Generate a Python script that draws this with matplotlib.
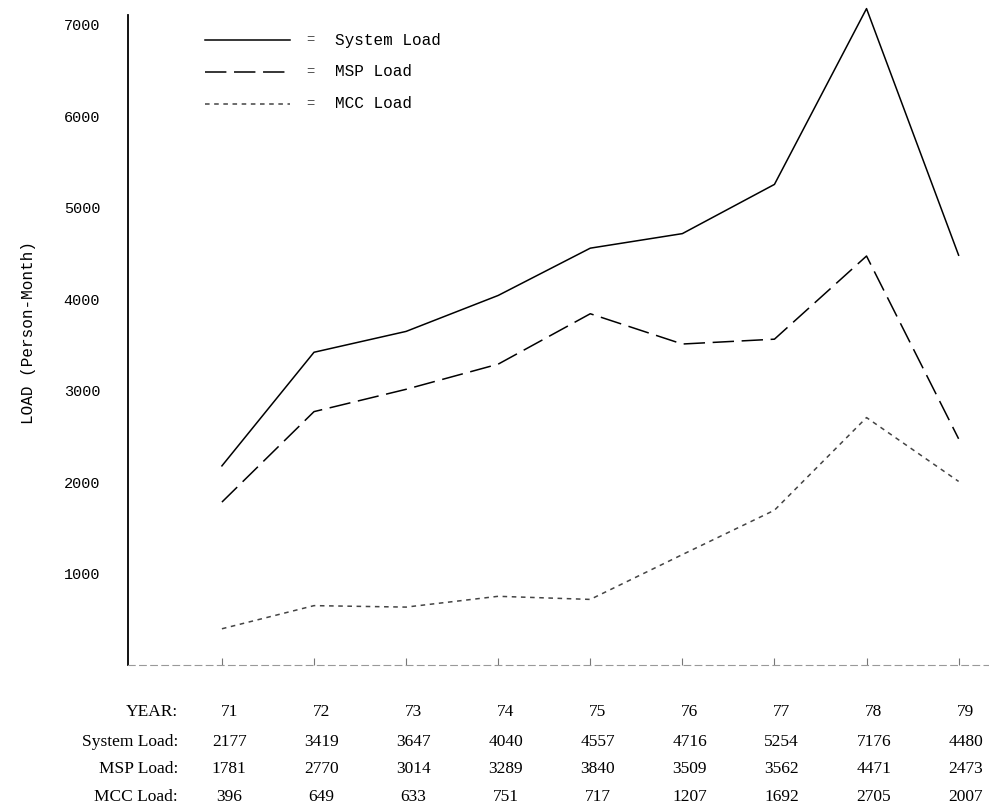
import numpy as np
import matplotlib.pyplot as plt
from matplotlib.transforms import blended_transform_factory

years = [71, 72, 73, 74, 75, 76, 77, 78, 79]
system_load = [2177, 3419, 3647, 4040, 4557, 4716, 5254, 7176, 4480]
msp_load = [1781, 2770, 3014, 3289, 3840, 3509, 3562, 4471, 2473]
mcc_load = [396, 649, 633, 751, 717, 1207, 1692, 2705, 2007]
y_ticks = [1000, 2000, 3000, 4000, 5000, 6000, 7000]

series = [
    ("System Load", system_load, "-", "black"),
    ("MSP Load", msp_load, (0, (14, 5)), "black"),
    ("MCC Load", mcc_load, (0, (3, 3)), "#444444"),
]

mono = "Liberation Mono"
fig = plt.figure(figsize=(9.89, 8.06), dpi=100)
ax = fig.add_axes([128 / 989, 141 / 806, 861 / 989, 665 / 806])

for name, vals, ls, col in series:
    ax.plot(years, vals, linestyle=ls, color=col, lw=1.1)

ax.set_xlim(69.98, 79.33)
ax.set_ylim(0, 7270)
ax.set_yticks(y_ticks)
ax.set_yticklabels([str(v) for v in y_ticks], family=mono, fontsize=11)
ax.tick_params(axis="y", length=0, pad=20)
ax.set_xticks(years)
ax.set_xticklabels([])
ax.tick_params(axis="x", direction="in", length=5, color="#777777")
for s in ("top", "right"):
    ax.spines[s].set_visible(False)
ax.spines["left"].set_linewidth(1.3)
ax.spines["left"].set_bounds(0, 7110)
ax.spines["bottom"].set_color("#999999")
ax.spines["bottom"].set_linestyle((0, (6, 4)))
ax.set_ylabel("LOAD (Person-Month)", family=mono, fontsize=11.5, labelpad=20)

# legend drawn by hand like the typed original
for i, (name, vals, ls, col) in enumerate(series):
    yy = 1 - (40 + 32 * i) / 665
    ax.plot([(205 - 128) / 861, (290 - 128) / 861],
            [yy, yy], transform=ax.transAxes, linestyle=ls, color=col, lw=1.1)
    ax.text((310 - 128) / 861, yy, "=", transform=ax.transAxes,
            family=mono, fontsize=10, va="center", ha="center", color="#555555")
    ax.text((335 - 128) / 861, yy, name, transform=ax.transAxes,
            family=mono, fontsize=11.5, va="center", ha="left")

# data table under the axis
tr = blended_transform_factory(ax.transData, fig.transFigure)
rows = [
    ("YEAR:", [str(y) for y in years], 712),
    ("System Load:", [str(v) for v in system_load], 742),
    ("MSP Load:", [str(v) for v in msp_load], 769),
    ("MCC Load:", [str(v) for v in mcc_load], 797),
]
for label, vals, ypx in rows:
    fy = 1 - ypx / 806
    fig.text(178 / 989, fy, label, family="Liberation Serif", fontsize=12.5,
             ha="right", va="center")
    for x, v in zip(years, vals):
        ax.text(x + 0.08, fy, v, transform=tr, family="Liberation Serif",
                fontsize=12.5, ha="center", va="center", clip_on=False)

fig.savefig("out.png", dpi=100)
